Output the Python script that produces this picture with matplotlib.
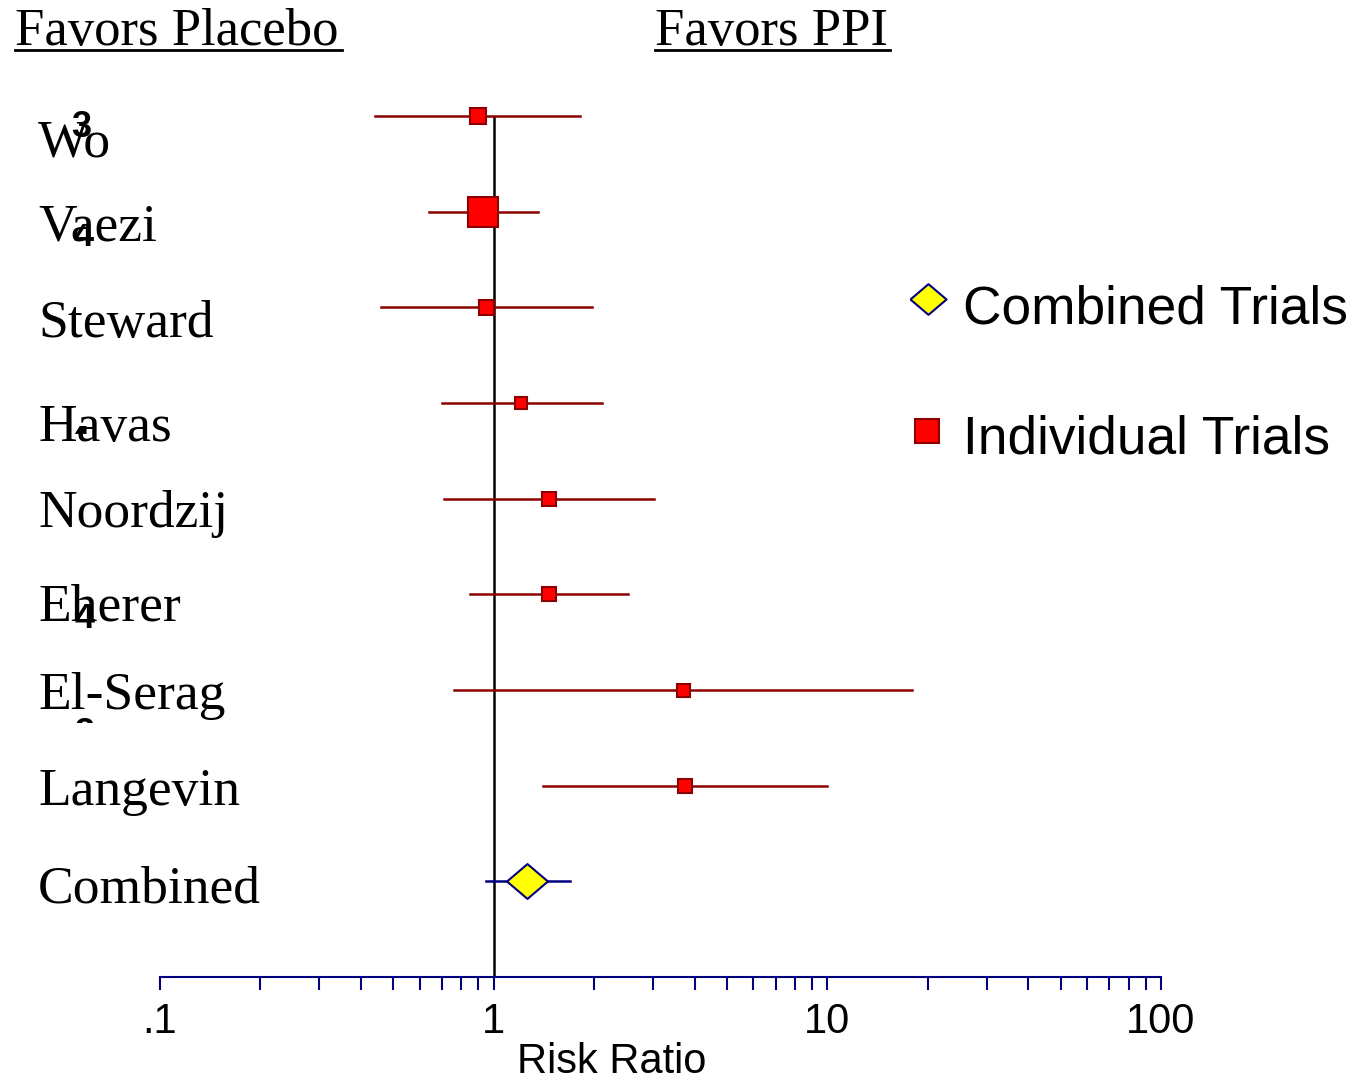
import matplotlib
matplotlib.use('Agg')
import matplotlib.pyplot as plt
from matplotlib.lines import Line2D
from matplotlib.transforms import Bbox

# data
studies = ['Wo', 'Vaezi', 'Steward', 'Havas', 'Noordzij', 'Eherer', 'El-Serag', 'Langevin']
rr = [0.90, 0.93, 0.95, 1.21, 1.46, 1.46, 3.69, 3.74]
lo = [0.44, 0.64, 0.46, 0.70, 0.71, 0.85, 0.76, 1.41]
hi = [1.82, 1.36, 1.97, 2.11, 3.02, 2.52, 17.9, 10.0]
weight_px = [16, 30, 15, 12, 14, 14, 13, 14]   # square size (study weight)

comb_label = 'Combined'
comb_rr, comb_lo, comb_hi = 1.26, 0.95, 1.69

ticks = [0.1, 1, 10, 100]
tick_labels = ['.1', '1', '10', '100']

W, H = 1354, 1083
fig = plt.figure(figsize=(W / 100, H / 100), dpi=100)
fig.patch.set_facecolor('white')

def fx(x):
    return x / W

def fy(y):
    return 1 - y / H

ax = fig.add_axes([fx(160), fy(977), fx(1161) - fx(160), fy(116) - fy(977)])
ax.set_xscale('log')
ax.set_xlim(0.1, 100)
ax.set_ylim(10, 1)
for s in ['top', 'right', 'left']:
    ax.spines[s].set_visible(False)
ax.spines['bottom'].set_color('#000080')
ax.spines['bottom'].set_linewidth(1.5)
ax.set_yticks([])
ax.set_xticks(ticks)
ax.set_xticklabels(tick_labels, family='Liberation Sans', fontsize=30)
ax.tick_params(axis='x', which='both', direction='out', length=9, width=1.5,
               color='#000080', pad=9)
ax.tick_params(axis='x', which='minor', labelbottom=False)
ax.set_facecolor('none')

# line of no effect
ax.axvline(1, color='black', lw=1.8, zorder=1)

rows = list(range(1, len(studies) + 1))
for r, m, l, h, w in zip(rows, rr, lo, hi, weight_px):
    ax.plot([l, h], [r, r], color='#8b0000', lw=1.8, zorder=2, clip_on=False)
    ax.plot(m, r, marker='s', ms=w * 0.72, mfc='red', mec='#8b0000', mew=1.5,
            zorder=3, clip_on=False)

crow = len(studies) + 1
diamond = [(-1, 0), (0, 0.85), (1, 0), (0, -0.85), (-1, 0)]
ax.plot([comb_lo, comb_hi], [crow, crow], color='#000080', lw=1.8, zorder=2)
ax.plot(comb_rr, crow, marker=diamond, ms=29.5, mfc='yellow', mec='#000080',
        mew=1.5, zorder=3)

# study names (they sit a little below their rows in the original)
label_y = [138, 222, 318, 422, 508, 602, 690, 786, 884]
for y, name in zip(label_y, studies + [comb_label]):
    fig.text(fx(38), fy(y), name, family='Liberation Serif', fontsize=38.5,
             va='center_baseline', ha='left')

# stray superscript glyphs left over in the original (partly hidden there)
fig.text(fx(81), fy(137), '3', family='Liberation Sans', weight='bold', fontsize=26,
         ha='center', va='baseline')
# glyph, x, baseline, visible band top/bottom
stray = [('4', 84, 246, 224, 250), ('4', 85, 628, 604, 632),
         ('4', 80, 450, 426, 434), ('3', 84, 744, 717, 723)]
for g, x, base, top, bot in stray:
    t = fig.text(fx(x), fy(base), g, family='Liberation Sans', weight='bold',
                 fontsize=26, ha='center', va='baseline')
    t.set_clip_box(Bbox([[x - 20, H - bot], [x + 20, H - top]]))
    t.set_clip_on(True)

# headers
fig.text(fx(15), fy(45), 'Favors Placebo', family='Liberation Serif', fontsize=38,
         ha='left', va='baseline')
fig.text(fx(655), fy(45), 'Favors PPI', family='Liberation Serif', fontsize=38,
         ha='left', va='baseline')
fig.add_artist(Line2D([fx(15), fx(342)], [fy(50), fy(50)], color='black', lw=2))
fig.add_artist(Line2D([fx(655), fx(890)], [fy(50), fy(50)], color='black', lw=2))

# legend
fig.add_artist(Line2D([fx(928)], [fy(299)], marker=diamond, ms=26, mfc='yellow',
                      mec='#000080', mew=1.5, ls='none'))
fig.text(fx(963), fy(310), 'Combined Trials', family='Liberation Sans', fontsize=38.3,
         ha='left', va='center')
fig.add_artist(Line2D([fx(927)], [fy(431)], marker='s', ms=17, mfc='red',
                      mec='#8b0000', mew=1.5, ls='none'))
fig.text(fx(963), fy(440), 'Individual Trials', family='Liberation Sans', fontsize=38.3,
         ha='left', va='center')

fig.text(fx(612), fy(1062), 'Risk Ratio', family='Liberation Sans', fontsize=30,
         ha='center', va='center')

fig.savefig('out.png', dpi=100, facecolor='white')
